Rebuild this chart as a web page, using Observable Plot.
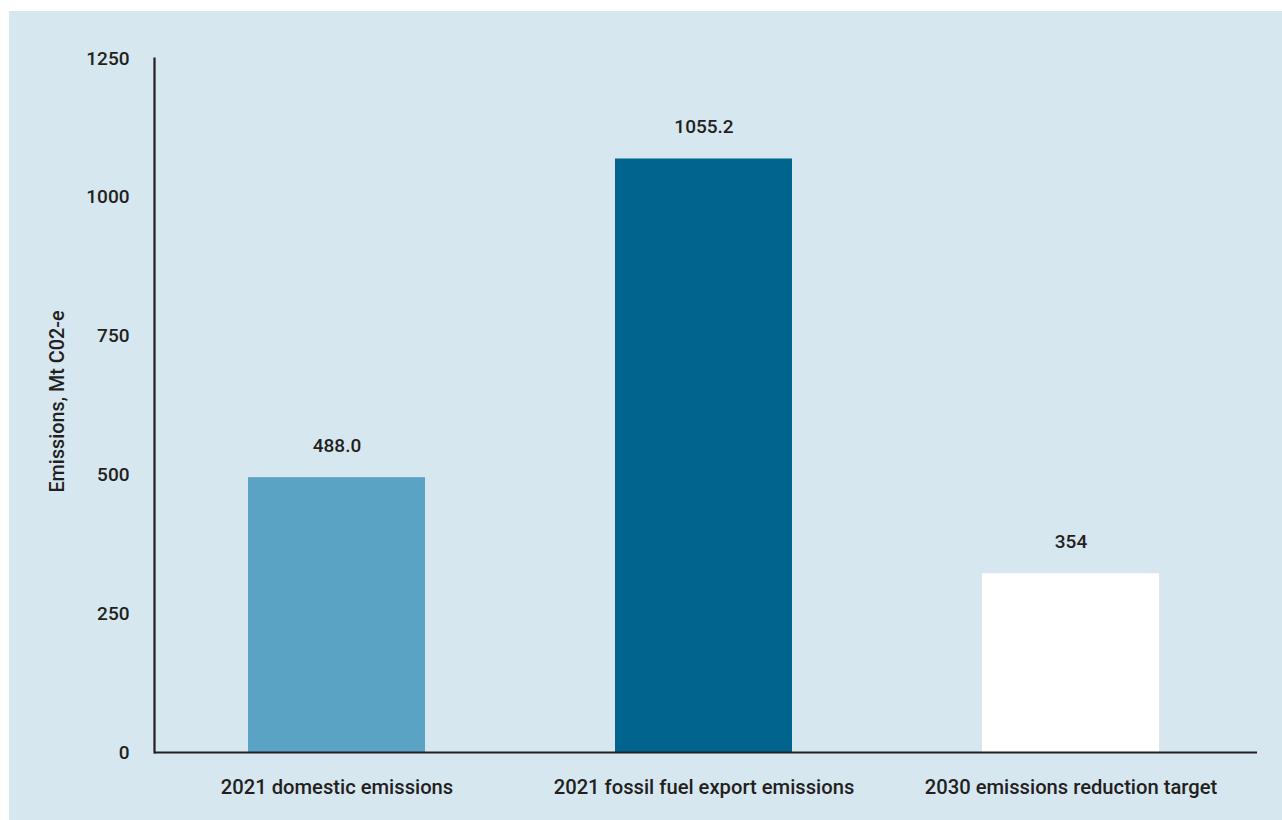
<!DOCTYPE html>
<html>
<head>
<meta charset="utf-8">
<script src="https://cdn.jsdelivr.net/npm/d3@7"></script>
<script src="https://cdn.jsdelivr.net/npm/@observablehq/plot@0.6"></script>
<style>
  html, body { margin: 0; padding: 0; background: #ffffff; }
  #panel { position: absolute; left: 9px; top: 11px; width: 1273px; height: 809px; background: #d7e7f0; }
  #panel svg { display: block; }
</style>
</head>
<body>
<div id="panel"></div>
<script>
// Data
const categories = ["2021 domestic emissions", "2021 fossil fuel export emissions", "2030 emissions reduction target"];
const barValues = [495, 1069, 322];            // drawn bar heights (as measured in the picture)
const valueLabels = ["488.0", "1055.2", "354"]; // printed labels
const barColors = ["#5aa3c4", "#00648f", "#ffffff"];
const yTicks = [0, 250, 500, 750, 1000, 1250];
const yLabel = "Emissions, Mt C02-e";

const data = categories.map((c, i) => ({category: c, value: barValues[i], label: valueLabels[i]}));

const ink = "#231f20";
const font = "Roboto, 'Noto Sans', sans-serif";

const chart = Plot.plot({
  width: 1273,
  height: 809,
  marginTop: 47,
  marginBottom: 68,
  marginLeft: 145,
  marginRight: 25,
  style: {background: "transparent", fontFamily: font, fontSize: "20px", fontWeight: 500, color: ink},
  x: {domain: categories, paddingInner: 0.519, paddingOuter: 0.26, align: 0.49, label: null},
  y: {domain: [0, 1250], label: null},
  color: {domain: categories, range: barColors},
  marks: [
    Plot.barY(data, {x: "category", y: "value", fill: "category"}),
    Plot.text(data, {x: "category", y: "value", text: "label", dy: -32, lineAnchor: "middle", fill: ink, fontSize: 19}),
    Plot.axisY({ticks: yTicks, tickFormat: d3.format("d"), tickSize: 0, tickPadding: 25, fontSize: 19, fill: ink, label: null}),
    Plot.axisX({tickSize: 0, tickPadding: 27, fontSize: 20.2, fill: ink, label: null}),
    Plot.text([yLabel], {frameAnchor: "left", rotate: -90, dx: -97, dy: -4, textAnchor: "middle", lineAnchor: "middle", fill: ink, fontSize: 19.8, fontWeight: 500}),
    Plot.ruleY([0], {stroke: ink, strokeWidth: 2.2}),
    Plot.frame({anchor: "left", stroke: ink, strokeWidth: 2.2})
  ]
});
document.getElementById("panel").appendChild(chart);
</script>
</body>
</html>
